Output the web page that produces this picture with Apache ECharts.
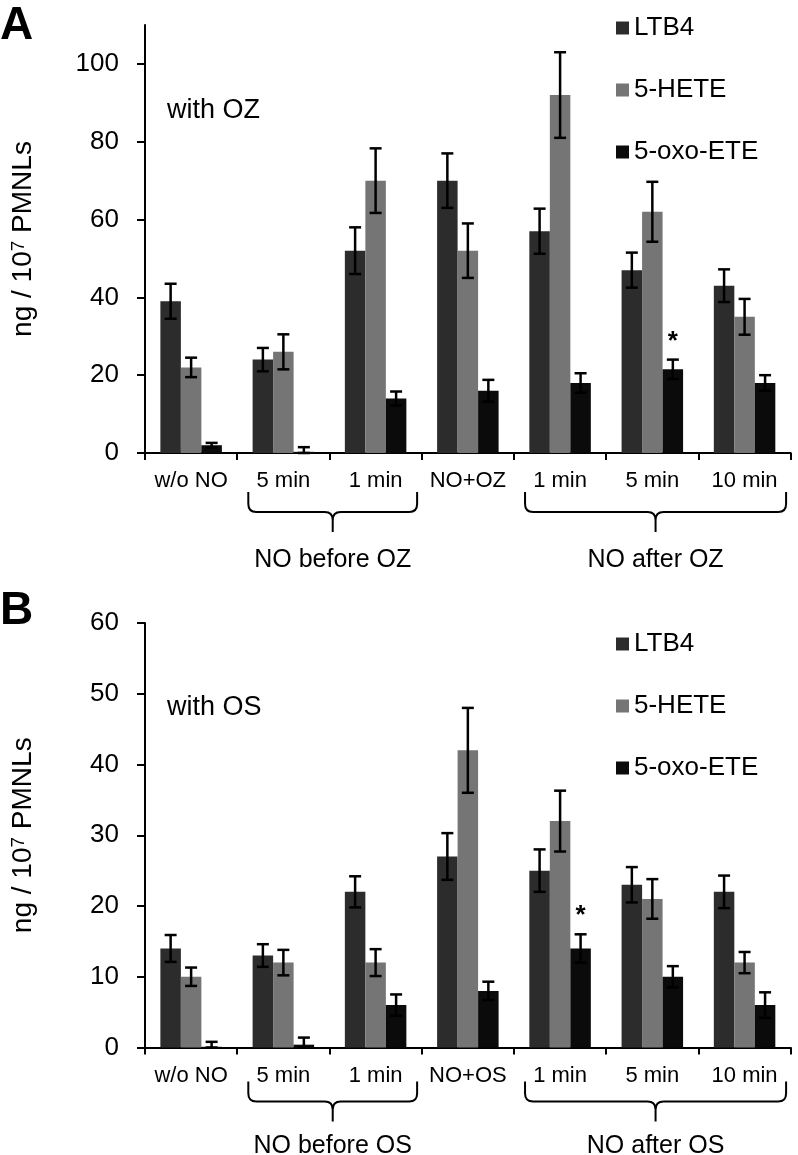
<!DOCTYPE html>
<html><head><meta charset="utf-8">
<script src="https://cdn.jsdelivr.net/npm/echarts@6/dist/echarts.min.js"></script>
<style>html,body{margin:0;padding:0;background:#fff}#c{width:798px;height:1155px}</style>
</head><body><div id="c"></div>
<script>
// ---------- data ----------
const categoriesA = ['w/o NO','5 min','1 min','NO+OZ','1 min','5 min','10 min'];
const categoriesB = ['w/o NO','5 min','1 min','NO+OS','1 min','5 min','10 min'];
const seriesNames = ['LTB4','5-HETE','5-oxo-ETE'];

const ltb4A    = [39, 24, 52, 70, 57, 47, 43];
const ltb4ErrA = [4.5, 3, 6, 7, 5.8, 4.5, 4.2];
const heteA    = [22, 26, 70, 52, 92, 62, 35];
const heteErrA = [2.5, 4.5, 8.3, 7, 11, 7.7, 4.6];
const oxoA     = [2, 0.3, 14, 16, 18, 21.5, 18];
const oxoErrA  = [0.6, 1.2, 1.8, 2.8, 2.5, 2.5, 2];
const oxoSigA  = [0, 0, 0, 0, 0, 1, 0];

const ltb4B    = [14, 13, 22, 27, 25, 23, 22];
const ltb4ErrB = [1.9, 1.6, 2.2, 3.3, 3, 2.5, 2.3];
const heteB    = [10, 12, 12, 42, 32, 21, 12];
const heteErrB = [1.3, 1.8, 1.9, 6, 4.3, 2.8, 1.5];
const oxoB     = [0.1, 0.4, 6, 8, 14, 10, 6];
const oxoErrB  = [0.7, 1.0, 1.5, 1.3, 2, 1.5, 1.8];
const oxoSigB  = [0, 0, 0, 0, 1, 0, 0];

const yTicksA = [0, 20, 40, 60, 80, 100];
const yTicksB = [0, 10, 20, 30, 40, 50, 60];

const groupSpans   = [[1, 2], [4, 6]];
const groupLabelsA = ['NO before OZ', 'NO after OZ'];
const groupLabelsB = ['NO before OS', 'NO after OS'];

const panelTitles = ['A', 'B'];
const conditionLabels = ['with OZ', 'with OS'];
const yAxisName = 'ng / 10{sup|7} PMNLs';

// ---------- style ----------
const FONT = '"Liberation Sans", Arial, sans-serif';
const COLORS = ['#2c2c2c', '#757575', '#0b0b0b'];
const CAT_GAP = 1/3;
const PAD_L = 0.38, PAD_R = 0.45;

const chart = echarts.init(document.getElementById('c'), null, {renderer: 'canvas'});

function errRender(i) {
  return function (params, api) {
    const idx = api.value(0), v = api.value(1), e = api.value(2), s = api.value(3);
    const band = api.size([1, 0])[0];
    const bw = band * (1 - CAT_GAP) / 3;
    const top = api.coord([idx, v + e]);
    const bot = api.coord([idx, Math.max(0, v - e)]);
    const x = top[0] + (i - 1) * bw;
    const st = {stroke: '#000', lineWidth: 2.5};
    const ch = [
      {type: 'line', shape: {x1: x, y1: top[1], x2: x, y2: bot[1]}, style: st},
      {type: 'line', shape: {x1: x - 6, y1: top[1], x2: x + 6, y2: top[1]}, style: st},
      {type: 'line', shape: {x1: x - 6, y1: bot[1], x2: x + 6, y2: bot[1]}, style: st}
    ];
    if (s) ch.push({type: 'text', x: x, y: top[1] - 18,
      style: {text: '*', fontSize: 26, fontWeight: 'bold', fontFamily: FONT, fill: '#000', align: 'center', verticalAlign: 'middle'}});
    return {type: 'group', children: ch};
  };
}

function braceRender(off, labels) {
  return function (params, api) {
    const a = api.value(0), b = api.value(2);
    const band = api.size([1, 0])[0];
    const p0 = api.coord([a, 0]), p1 = api.coord([b, 0]);
    const x0 = p0[0] - PAD_L * band, x1 = p1[0] + PAD_R * band;
    const base = p0[1];
    const yT = base + off.top, yH = yT + 20, yTip = yH + 20;
    const xm = (x0 + x1) / 2, r = 8;
    const d = 'M' + x0 + ' ' + yT + ' L' + x0 + ' ' + (yH - r) + ' Q' + x0 + ' ' + yH + ' ' + (x0 + r) + ' ' + yH +
      ' L' + (xm - r) + ' ' + yH + ' Q' + xm + ' ' + yH + ' ' + xm + ' ' + (yH + r) + ' L' + xm + ' ' + yTip +
      ' M' + xm + ' ' + (yH + r) + ' Q' + xm + ' ' + yH + ' ' + (xm + r) + ' ' + yH +
      ' L' + (x1 - r) + ' ' + yH + ' Q' + x1 + ' ' + yH + ' ' + x1 + ' ' + (yH - r) + ' L' + x1 + ' ' + yT;
    return {type: 'group', children: [
      {type: 'path', shape: {pathData: d}, style: {stroke: '#000', fill: 'none', lineWidth: 2}},
      {type: 'text', x: xm, y: base + off.label,
        style: {text: labels[params.dataIndex], fontSize: 25, fontFamily: FONT, fill: '#000', align: 'center', verticalAlign: 'middle'}}
    ]};
  };
}

function xAxis(gi, cats) {
  return {
    gridIndex: gi, type: 'category', data: cats,
    axisLine: {show: true, lineStyle: {color: '#000', width: 2}},
    axisTick: {show: true, alignWithLabel: false, length: 7, lineStyle: {color: '#000', width: 2}},
    axisLabel: {fontSize: 22, color: '#000', margin: 17, interval: 0, fontFamily: FONT},
    splitLine: {show: false}
  };
}
function yAxis(gi, max, interval, ticks) {
  return {
    gridIndex: gi, type: 'value', min: 0, max: max, interval: interval,
    axisLine: {show: true, lineStyle: {color: '#000', width: 2}},
    axisTick: {show: true, inside: false, length: 8, lineStyle: {color: '#000', width: 2}, customValues: ticks},
    axisLabel: {fontSize: 26, color: '#000', margin: 26, fontFamily: FONT, customValues: ticks},
    splitLine: {show: false},
    name: yAxisName, nameLocation: 'middle', nameRotate: 90, nameGap: 108,
    nameTextStyle: {fontSize: 28, color: '#000', fontFamily: FONT,
      rich: {sup: {fontSize: 19, color: '#000', fontFamily: FONT, verticalAlign: 'top'}}}
  };
}

function barSeries(gi, name, data, color) {
  return {
    type: 'bar', name: name, xAxisIndex: gi, yAxisIndex: gi, data: data,
    barGap: '0%', barCategoryGap: '33.33%', itemStyle: {color: color}, silent: true
  };
}
function errSeries(gi, i, vals, errs, sig) {
  return {
    type: 'custom', name: 'err' + gi + '_' + i, xAxisIndex: gi, yAxisIndex: gi, clip: false, silent: true, z: 5,
    encode: {x: 0, y: 1},
    data: vals.map((v, k) => [k, v, errs[k], sig ? sig[k] : 0]),
    renderItem: errRender(i)
  };
}
function braceSeries(gi, off, labels) {
  return {
    type: 'custom', name: 'brace' + gi, xAxisIndex: gi, yAxisIndex: gi, clip: false, silent: true,
    encode: {x: 0, y: 1},
    data: groupSpans.map(s => [s[0], 0, s[1]]),
    renderItem: braceRender(off, labels)
  };
}

function legend(top) {
  return {
    data: seriesNames, orient: 'vertical', left: 616, top: top, padding: 0,
    itemWidth: 13, itemHeight: 13, itemGap: 36, icon: 'rect', selectedMode: false,
    textStyle: {fontSize: 26, color: '#000', fontFamily: FONT}
  };
}

const option = {
  animation: false,
  backgroundColor: '#fff',
  textStyle: {fontFamily: FONT},
  grid: [
    {left: 145, right: 7.3, top: 25, height: 428},
    {left: 145, right: 7.3, top: 623, height: 424.5}
  ],
  xAxis: [xAxis(0, categoriesA), xAxis(1, categoriesB)],
  yAxis: [yAxis(0, 110, 20, yTicksA), yAxis(1, 60, 10, yTicksB)],
  legend: [legend(15), legend(631)],
  graphic: [
    {type: 'text', left: 0, top: 3, style: {text: panelTitles[0], fontSize: 46, fontWeight: 'bold', fontFamily: FONT, fill: '#000'}},
    {type: 'text', left: 0, top: 588, style: {text: panelTitles[1], fontSize: 46, fontWeight: 'bold', fontFamily: FONT, fill: '#000'}},
    {type: 'text', left: 167, top: 97, style: {text: conditionLabels[0], fontSize: 27, fontFamily: FONT, fill: '#000'}},
    {type: 'text', left: 167, top: 694, style: {text: conditionLabels[1], fontSize: 27, fontFamily: FONT, fill: '#000'}}
  ],
  series: [
    barSeries(0, seriesNames[0], ltb4A, COLORS[0]),
    barSeries(0, seriesNames[1], heteA, COLORS[1]),
    barSeries(0, seriesNames[2], oxoA, COLORS[2]),
    barSeries(1, seriesNames[0], ltb4B, COLORS[0]),
    barSeries(1, seriesNames[1], heteB, COLORS[1]),
    barSeries(1, seriesNames[2], oxoB, COLORS[2]),
    errSeries(0, 0, ltb4A, ltb4ErrA),
    errSeries(0, 1, heteA, heteErrA),
    errSeries(0, 2, oxoA, oxoErrA, oxoSigA),
    errSeries(1, 0, ltb4B, ltb4ErrB),
    errSeries(1, 1, heteB, heteErrB),
    errSeries(1, 2, oxoB, oxoErrB, oxoSigB),
    braceSeries(0, {top: 39, label: 107}, groupLabelsA),
    braceSeries(1, {top: 34, label: 99}, groupLabelsB)
  ]
};
chart.setOption(option);
</script>
</body></html>
